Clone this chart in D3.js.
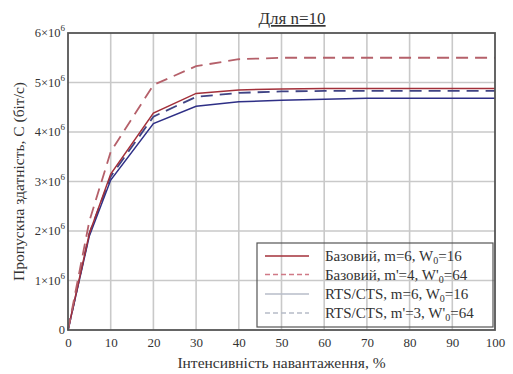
<!DOCTYPE html>
<html>
<head>
<meta charset="utf-8">
<script src="https://cdn.jsdelivr.net/npm/d3@7"></script>
<style>
  html, body { margin: 0; padding: 0; background: #fff; }
  svg { display: block; }
  text { font-family: "Liberation Serif", "Times New Roman", serif; fill: #333; }
</style>
</head>
<body>
<svg id="chart" width="513" height="374"></svg>
<script>
// Load intensity, %
const loadPct = [0, 5, 10, 20, 30, 40, 50, 60, 70, 80, 90, 100];

// Throughput, millions of bit/s
const baseM6W16  = [0, 1.95, 3.15, 4.38, 4.78, 4.85, 4.87, 4.88, 4.88, 4.88, 4.88, 4.88];
const baseM4W64  = [0, 2.2, 3.6, 4.95, 5.33, 5.47, 5.5, 5.5, 5.5, 5.5, 5.5, 5.5];
const rtsM6W16   = [0, 1.9, 3.03, 4.17, 4.52, 4.61, 4.64, 4.66, 4.68, 4.68, 4.68, 4.68];
const rtsM3W64   = [0, 1.95, 3.1, 4.31, 4.71, 4.79, 4.82, 4.83, 4.83, 4.83, 4.83, 4.83];

const xTicks = [0, 10, 20, 30, 40, 50, 60, 70, 80, 90, 100];
const yTicks = [0, 1, 2, 3, 4, 5, 6];

const seriesNames = [
  ["Базовий, m=6, W", "0", "=16"],
  ["Базовий, m'=4, W'", "0", "=64"],
  ["RTS/CTS, m=6, W", "0", "=16"],
  ["RTS/CTS, m'=3, W'", "0", "=64"]
];

const svg = d3.select("#chart");
const m = { left: 68, right: 18, top: 33, bottom: 44 };
const W = 513, H = 374;

const x = d3.scaleLinear().domain([0, 100]).range([m.left, W - m.right]);
const y = d3.scaleLinear().domain([0, 6]).range([H - m.bottom, m.top]);

// grid
svg.append("g").selectAll("line").data(xTicks.slice(1, -1)).join("line")
  .attr("x1", d => x(d)).attr("x2", d => x(d))
  .attr("y1", y(0)).attr("y2", y(6))
  .attr("stroke", "#c9c9c9").attr("stroke-width", 1.6);
svg.append("g").selectAll("line").data(yTicks.slice(1, -1)).join("line")
  .attr("x1", x(0)).attr("x2", x(100))
  .attr("y1", d => y(d)).attr("y2", d => y(d))
  .attr("stroke", "#c9c9c9").attr("stroke-width", 1.6);

// data lines
const line = d3.line().x((d, i) => x(loadPct[i])).y(d => y(d));
const series = [
  { v: baseM6W16, color: "#a3303a", dash: null, w: 1.5 },
  { v: baseM4W64, color: "#b5606a", dash: "12,7", w: 1.8 },
  { v: rtsM6W16,  color: "#2e2f86", dash: null, w: 1.5 },
  { v: rtsM3W64,  color: "#3f4384", dash: "12,7", w: 1.8 }
];
// draw the lower ones first so the red curves sit on top where they overlap
[2, 3, 0, 1].forEach(k => {
  const s = series[k];
  svg.append("path").datum(s.v)
    .attr("d", line)
    .attr("fill", "none")
    .attr("stroke", s.color)
    .attr("stroke-width", s.w)
    .attr("stroke-dasharray", s.dash);
});

// frame
svg.append("rect")
  .attr("x", x(0)).attr("y", y(6))
  .attr("width", x(100) - x(0)).attr("height", y(0) - y(6))
  .attr("fill", "none").attr("stroke", "#555").attr("stroke-width", 1.8);

// x ticks
const xAxis = d3.axisBottom(x).tickValues(xTicks).tickSize(0).tickPadding(8);
const gx = svg.append("g").attr("transform", `translate(0,${y(0)})`).call(xAxis);
gx.select(".domain").remove();
gx.selectAll("text").style("font-family", "'Liberation Serif', serif").style("font-size", "13px").attr("fill", "#444");

// y ticks with superscript exponent
const gy = svg.append("g");
yTicks.forEach(t => {
  const tx = gy.append("text")
    .attr("x", x(0) - 3).attr("y", y(t) + 4)
    .attr("text-anchor", "end")
    .style("font-size", "12.5px").attr("fill", "#444");
  if (t === 0) {
    tx.text("0");
  } else {
    tx.append("tspan").text(t + "×10");
    tx.append("tspan").text("6").attr("dy", -6).style("font-size", "9px");
  }
});

// axis titles
svg.append("text")
  .attr("x", (x(0) + x(100)) / 2).attr("y", 368)
  .attr("text-anchor", "middle").style("font-size", "15.5px").attr("fill", "#333")
  .text("Інтенсивність навантаження, %");
svg.append("text")
  .attr("transform", `translate(24,${(y(0) + y(6)) / 2}) rotate(-90)`)
  .attr("text-anchor", "middle").style("font-size", "15.5px").attr("fill", "#333")
  .text("Пропускна здатність, С (біт/с)");

// title, underlined
svg.append("text")
  .attr("x", 292).attr("y", 24)
  .attr("text-anchor", "middle").style("font-size", "17px")
  .style("text-decoration", "underline").attr("fill", "#333")
  .text("Для n=10");

// legend
const lg = svg.append("g");
const lx0 = 257, ly0 = 243, lx1 = x(100) - 2, ly1 = 327;
lg.append("rect").attr("x", lx0).attr("y", ly0)
  .attr("width", lx1 - lx0).attr("height", ly1 - ly0)
  .attr("fill", "none").attr("stroke", "#555").attr("stroke-width", 1.2);
const legendColors = ["#a3303a", "#d07a86", "#b7bcc8", "#b7bcc8"];
const legendDash = [null, "5,3", null, "5,3"];
const rowY = [256, 274.5, 294, 313];
seriesNames.forEach((nm, i) => {
  lg.append("line")
    .attr("x1", 265).attr("x2", 309)
    .attr("y1", rowY[i]).attr("y2", rowY[i])
    .attr("stroke", legendColors[i]).attr("stroke-width", 1.3)
    .attr("stroke-dasharray", legendDash[i]);
  const t = lg.append("text").attr("x", 325).attr("y", rowY[i] + 5)
    .style("font-size", "15px").attr("fill", "#444");
  t.append("tspan").text(nm[0]);
  t.append("tspan").text(nm[1]).attr("dy", 3).style("font-size", "10px");
  t.append("tspan").text(nm[2]).attr("dy", -3);
});
</script>
</body>
</html>
